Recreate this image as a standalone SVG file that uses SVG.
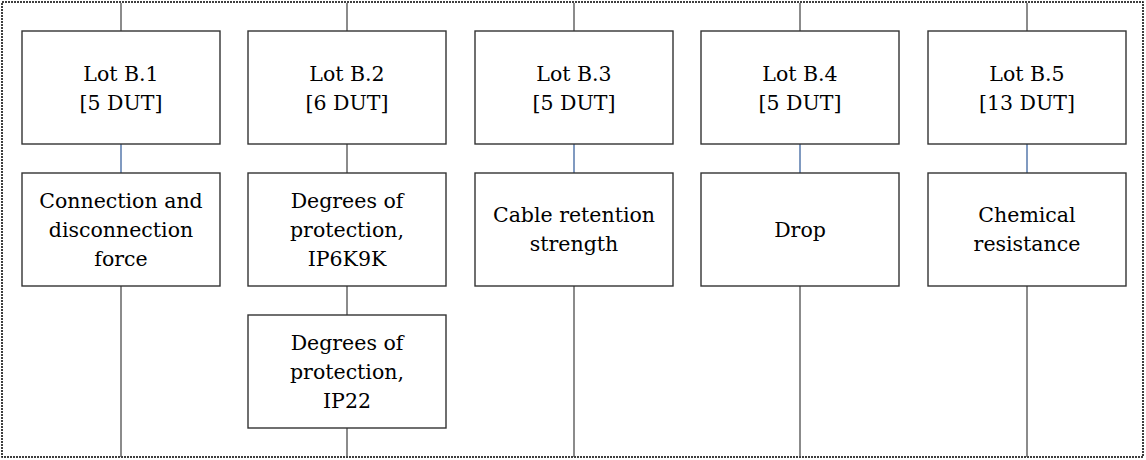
<svg xmlns="http://www.w3.org/2000/svg" width="1146" height="460" viewBox="0 0 1146 460">
<style>
.frame{fill:none;stroke:#000;stroke-width:1.5;stroke-dasharray:2 1}
.box{fill:#fff;stroke:#333;stroke-width:1.4}
.c{stroke:#4d4d4d;stroke-width:1.3;fill:none}
.cb{stroke:#4a6fa5;stroke-width:1.4;fill:none}
.t{font-size:20.5px;fill:#000;text-anchor:middle}
</style>
<rect x="0" y="0" width="1146" height="460" fill="#fff"/>
<rect class="frame" x="2" y="2" width="1141" height="455"/>
<g id="connectors">
<line class="c" x1="121" y1="3" x2="121" y2="31"/>
<line class="c" x1="347" y1="3" x2="347" y2="31"/>
<line class="c" x1="574" y1="3" x2="574" y2="31"/>
<line class="c" x1="800" y1="3" x2="800" y2="31"/>
<line class="c" x1="1027" y1="3" x2="1027" y2="31"/>
<line class="cb" x1="121" y1="144" x2="121" y2="173"/>
<line class="c" x1="347" y1="144" x2="347" y2="173"/>
<line class="cb" x1="574" y1="144" x2="574" y2="173"/>
<line class="cb" x1="800" y1="144" x2="800" y2="173"/>
<line class="cb" x1="1027" y1="144" x2="1027" y2="173"/>
<line class="c" x1="121" y1="286" x2="121" y2="457"/>
<line class="c" x1="347" y1="286" x2="347" y2="315"/>
<line class="c" x1="347" y1="428" x2="347" y2="457"/>
<line class="c" x1="574" y1="286" x2="574" y2="457"/>
<line class="c" x1="800" y1="286" x2="800" y2="457"/>
<line class="c" x1="1027" y1="286" x2="1027" y2="457"/>
</g>
<g class="t" font-family="'DejaVu Serif', 'Liberation Serif', serif">
<g id="lotB1"><rect class="box" x="22" y="31" width="198" height="113"/><text x="121" y="81">Lot B.1</text><text x="121" y="110">[5 DUT]</text></g>
<g id="lotB2"><rect class="box" x="248" y="31" width="198" height="113"/><text x="347" y="81">Lot B.2</text><text x="347" y="110">[6 DUT]</text></g>
<g id="lotB3"><rect class="box" x="475" y="31" width="198" height="113"/><text x="574" y="81">Lot B.3</text><text x="574" y="110">[5 DUT]</text></g>
<g id="lotB4"><rect class="box" x="701" y="31" width="198" height="113"/><text x="800" y="81">Lot B.4</text><text x="800" y="110">[5 DUT]</text></g>
<g id="lotB5"><rect class="box" x="928" y="31" width="198" height="113"/><text x="1027" y="81">Lot B.5</text><text x="1027" y="110">[13 DUT]</text></g>
<g id="testB1"><rect class="box" x="22" y="173" width="198" height="113"/><text x="121" y="208">Connection and</text><text x="121" y="237">disconnection</text><text x="121" y="266">force</text></g>
<g id="testB2a"><rect class="box" x="248" y="173" width="198" height="113"/><text x="347" y="208">Degrees of</text><text x="347" y="237">protection,</text><text x="347" y="266">IP6K9K</text></g>
<g id="testB2b"><rect class="box" x="248" y="315" width="198" height="113"/><text x="347" y="350">Degrees of</text><text x="347" y="379">protection,</text><text x="347" y="408">IP22</text></g>
<g id="testB3"><rect class="box" x="475" y="173" width="198" height="113"/><text x="574" y="222">Cable retention</text><text x="574" y="251">strength</text></g>
<g id="testB4"><rect class="box" x="701" y="173" width="198" height="113"/><text x="800" y="237">Drop</text></g>
<g id="testB5"><rect class="box" x="928" y="173" width="198" height="113"/><text x="1027" y="222">Chemical</text><text x="1027" y="251">resistance</text></g>
</g>
</svg>
